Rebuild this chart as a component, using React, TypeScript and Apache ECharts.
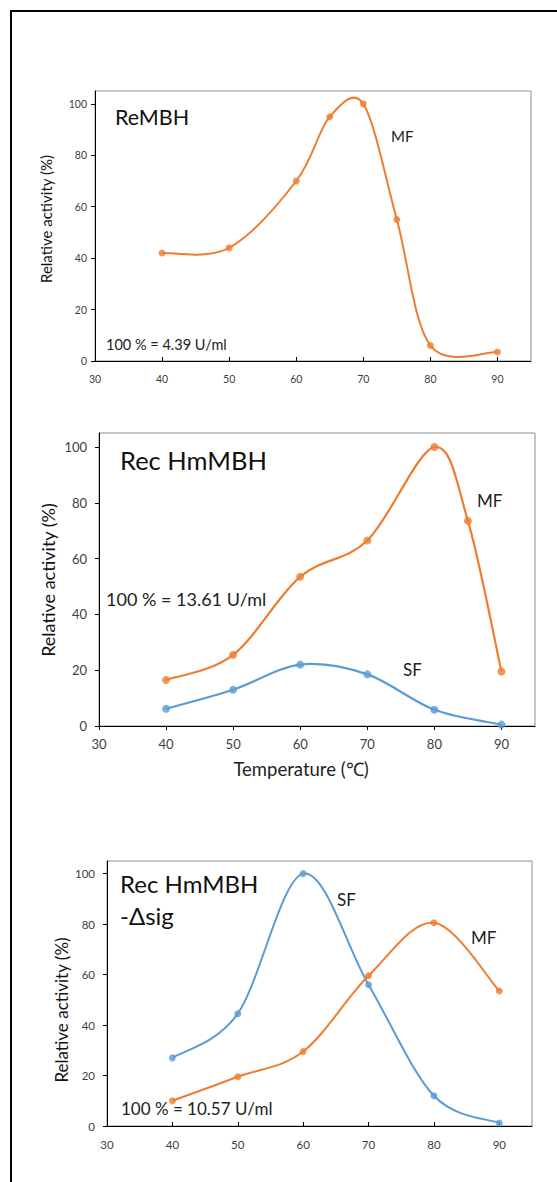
import React, { useEffect, useRef } from "react";
import * as echarts from "echarts";

// ---- data ----
const xTickValues = [30, 40, 50, 60, 70, 80, 90];
const yTickValues = [0, 20, 40, 60, 80, 100];

const reTemps = [40, 50, 60, 65, 70, 75, 80, 90];
const reMF = [42, 44, 70, 95, 100, 55, 6, 3.5];

const hmMFTemps = [40, 50, 60, 70, 80, 85, 90];
const hmMF = [16.5, 25.5, 53.5, 66.5, 100, 73.5, 19.5];
const hmSFTemps = [40, 50, 60, 70, 80, 90];
const hmSF = [6.2, 13, 22, 18.5, 5.8, 0.5];

const sigTemps = [40, 50, 60, 70, 80, 90];
const sigSF = [27, 44.5, 100, 56, 12, 1.2];
const sigMF = [10, 19.5, 29.5, 59.5, 80.5, 53.5];

const ORANGE = "#ED7D31";
const BLUE = "#5B9BD5";
const FONT = "Lato";

function pairs(xs: number[], ys: number[]) {
  return xs.map((x, i) => [x, ys[i]]);
}

function dist(a: number[], b: number[]) {
  return Math.hypot(a[0] - b[0], a[1] - b[1]);
}

// Excel-like smoothed curve drawn segment by segment through the axes' scales
function smoothSeries(gi: number, xs: number[], ys: number[], color: string, lw: number) {
  const n = xs.length;
  return {
    type: "custom",
    coordinateSystem: "cartesian2d",
    xAxisIndex: gi,
    yAxisIndex: gi,
    data: pairs(xs, ys),
    encode: { x: 0, y: 1 },
    clip: false,
    z: 2,
    renderItem: (params: any, api: any) => {
      const i = params.dataIndex;
      if (i >= n - 1) return null;
      const c = (k: number) => Math.max(0, Math.min(n - 1, k));
      const P = (k: number) => api.coord([xs[c(k)], ys[c(k)]]);
      const p0 = P(i - 1), p1 = P(i), p2 = P(i + 1), p3 = P(i + 2);
      const d02 = dist(p0, p2), d12 = dist(p1, p2), d13 = dist(p1, p3);
      const f0 = d02 / 6 < d12 / 2 ? 1 / 6 : d12 / (2 * d02);
      const f3 = d13 / 6 < d12 / 2 ? 1 / 6 : d12 / (2 * d13);
      return {
        type: "bezierCurve",
        shape: {
          x1: p1[0],
          y1: p1[1],
          x2: p2[0],
          y2: p2[1],
          cpx1: p1[0] + (p2[0] - p0[0]) * f0,
          cpy1: p1[1] + (p2[1] - p0[1]) * f0,
          cpx2: p2[0] - (p3[0] - p1[0]) * f3,
          cpy2: p2[1] - (p3[1] - p1[1]) * f3,
        },
        style: { stroke: color, lineWidth: lw, fill: "none" },
      };
    },
  };
}

function markerSeries(gi: number, xs: number[], ys: number[], color: string, size: number) {
  return {
    type: "scatter",
    xAxisIndex: gi,
    yAxisIndex: gi,
    data: pairs(xs, ys),
    symbol: "circle",
    symbolSize: size,
    itemStyle: { color },
    z: 3,
  };
}

export default function App() {
  const ref = useRef<HTMLDivElement>(null);
  useEffect(() => {
    const chart = echarts.init(ref.current!, null, { renderer: "svg" });

    const grids = [
      { left: 95, top: 91, width: 436, height: 270 },
      { left: 99, top: 433, width: 436, height: 293 },
      { left: 107, top: 861, width: 425, height: 265 },
    ];
    const axisFont = [10.5, 13, 11.5];
    const xMargin = [12, 11, 12];
    const yMargin = [8, 12, 12];
    const xInside = [true, false, true];

    const xAxis = grids.map((_, i) => ({
      type: "value",
      gridIndex: i,
      min: 30,
      max: 95,
      interval: 10,
      axisLine: { show: true, onZero: false, lineStyle: { color: "#000", width: 1 } },
      axisTick: {
        show: true,
        inside: xInside[i],
        length: 4,
        customValues: xTickValues,
        lineStyle: { color: "#000" },
      },
      axisLabel: {
        customValues: xTickValues,
        fontSize: axisFont[i],
        fontFamily: FONT,
        color: "#404040",
        margin: xMargin[i],
      },
      splitLine: { show: false },
    }));

    const yAxis = grids.map((_, i) => ({
      type: "value",
      gridIndex: i,
      min: 0,
      max: 105,
      interval: 20,
      axisLine: { show: true, onZero: false, lineStyle: { color: "#000", width: 1 } },
      axisTick: {
        show: true,
        inside: false,
        length: 4,
        customValues: yTickValues,
        lineStyle: { color: "#000" },
      },
      axisLabel: {
        customValues: yTickValues,
        fontSize: axisFont[i],
        fontFamily: FONT,
        color: "#404040",
        margin: yMargin[i],
      },
      splitLine: { show: false },
    }));

    const txt = (text: string, x: number, y: number, size: number, align = "left", fill = "#111", rotation = 0) => ({
      type: "text",
      x,
      y,
      rotation,
      z: 10,
      style: {
        text,
        x: 0,
        y: 0,
        fontSize: size,
        fontFamily: FONT,
        fill,
        align,
        textAlign: align,
        verticalAlign: "middle",
        textVerticalAlign: "middle",
      },
    });

    chart.setOption({
      animation: false,
      backgroundColor: "#fff",
      grid: grids.map((g) => ({ ...g, show: true, borderColor: "#8c8c8c", borderWidth: 1, backgroundColor: "transparent" })),
      xAxis,
      yAxis,
      series: [
        smoothSeries(0, reTemps, reMF, ORANGE, 2),
        markerSeries(0, reTemps, reMF, ORANGE, 7),
        smoothSeries(1, hmMFTemps, hmMF, ORANGE, 2.2),
        markerSeries(1, hmMFTemps, hmMF, ORANGE, 8),
        smoothSeries(1, hmSFTemps, hmSF, BLUE, 2.2),
        markerSeries(1, hmSFTemps, hmSF, BLUE, 8),
        smoothSeries(2, sigTemps, sigSF, BLUE, 2),
        markerSeries(2, sigTemps, sigSF, BLUE, 7),
        smoothSeries(2, sigTemps, sigMF, ORANGE, 2),
        markerSeries(2, sigTemps, sigMF, ORANGE, 7),
      ],
      graphic: [
        {
          type: "rect",
          shape: { x: 11, y: 11, width: 700, height: 1400 },
          style: { fill: "none", stroke: "#000", lineWidth: 2 },
          z: 20,
        },
        // chart 1
        txt("ReMBH", 115, 117, 21.5),
        txt("100 % = 4.39 U/ml", 106, 344, 14.5, "left", "#222"),
        txt("MF", 391, 136, 15, "left", "#222"),
        txt("Relative activity (%)", 46, 219, 15, "center", "#111", Math.PI / 2),
        // chart 2
        txt("Rec HmMBH", 120, 460, 25.5),
        txt("100 % = 13.61 U/ml", 106, 599, 18, "left", "#222"),
        txt("MF", 477, 500, 17, "left", "#222"),
        txt("SF", 403, 669, 17, "left", "#222"),
        txt("Relative activity (%)", 48, 580, 18, "center", "#111", Math.PI / 2),
        txt("Temperature (℃)", 301, 769, 18.5, "center", "#222"),
        // chart 3
        txt("Rec HmMBH", 120, 883, 24),
        txt("-Δsig", 120, 915, 24),
        txt("100 % = 10.57 U/ml", 121, 1108, 17, "left", "#222"),
        txt("SF", 337, 899, 17, "left", "#222"),
        txt("MF", 471, 937, 17, "left", "#222"),
        txt("Relative activity (%)", 61, 1010, 17, "center", "#111", Math.PI / 2),
      ],
    });

    return () => chart.dispose();
  }, []);
  return (
    <div
      ref={ref}
      style={{ position: "absolute", left: 0, top: 0, width: 557, height: 1182 }}
    />
  );
}
